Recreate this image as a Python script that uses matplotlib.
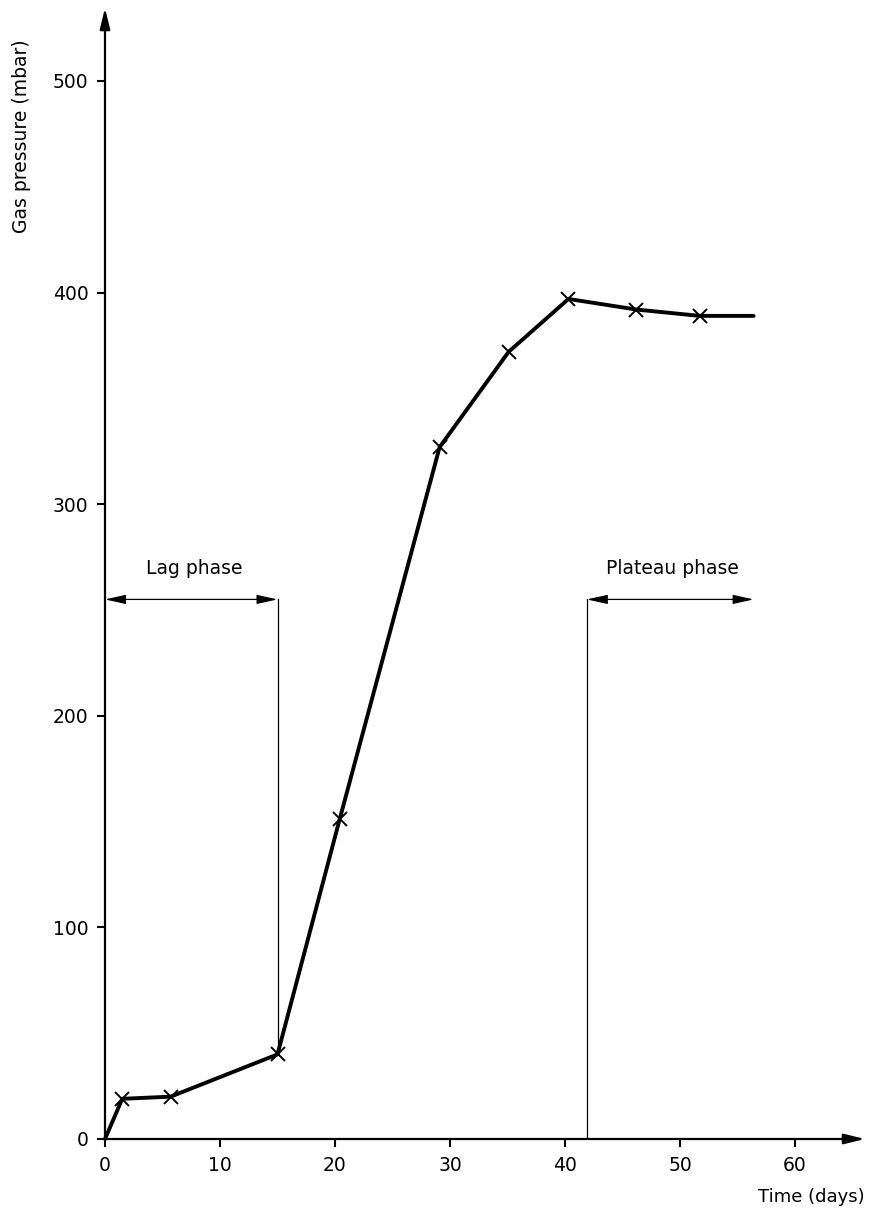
import matplotlib.pyplot as plt

# gas pressure readings (days, mbar)
days = [0, 1.5, 5.7, 15.0, 20.4, 29.1, 35.1, 40.3, 46.2, 51.7, 56.4]
pressure = [0, 19, 20, 40, 151, 327, 372, 397, 392, 389, 389]
marked = [False, True, True, True, True, True, True, True, True, True, False]

xticks = [0, 10, 20, 30, 40, 50, 60]
yticks = [0, 100, 200, 300, 400, 500]

lag_start, lag_end = 0, 15.0
plateau_start, plateau_end = 41.9, 56.4
phase_level = 255

fig = plt.figure(figsize=(8.69, 12.12), dpi=100)
ax = fig.add_axes([105 / 869, 73 / 1212, 760 / 869, 1131 / 1212])
ax.set_xlim(0, 760 / 11.5)
ax.set_ylim(0, 1131 / 2.116)

# axes drawn as arrows instead of spines
for s in ax.spines.values():
    s.set_visible(False)
ax.annotate("", xy=(1, 0), xytext=(0, 0), xycoords="axes fraction",
            arrowprops=dict(arrowstyle="-|>,head_length=0.9,head_width=0.22",
                            color="black", lw=1.6, mutation_scale=14,
                            shrinkA=0, shrinkB=0))
ax.annotate("", xy=(0, 1), xytext=(0, 0), xycoords="axes fraction",
            arrowprops=dict(arrowstyle="-|>,head_length=0.9,head_width=0.22",
                            color="black", lw=1.6, mutation_scale=14,
                            shrinkA=0, shrinkB=0))

ax.set_xticks(xticks)
ax.set_yticks(yticks)
ax.tick_params(direction="out", length=6, width=1.5, labelsize=13.5, pad=6)

# curve
ax.plot(days, pressure, color="black", lw=2.8, solid_capstyle="round", clip_on=False)
mx = [d for d, m in zip(days, marked) if m]
my = [p for p, m in zip(pressure, marked) if m]
ax.plot(mx, my, "x", color="black", ms=10, mew=1.4, clip_on=False)

arrow = dict(arrowstyle="<|-|>,head_length=0.9,head_width=0.2", color="black",
             lw=0.9, mutation_scale=14, shrinkA=0, shrinkB=0)

# lag phase marker
ax.annotate("", xy=(lag_start, phase_level), xytext=(lag_end, phase_level),
            arrowprops=arrow)
ax.plot([lag_end, lag_end], [phase_level, pressure[3]], color="black", lw=0.9)
ax.text((lag_start + lag_end) / 2 + 0.3, phase_level + 10, "Lag phase",
        ha="center", va="bottom", fontsize=13.5)

# plateau phase marker
ax.annotate("", xy=(plateau_start, phase_level), xytext=(plateau_end, phase_level),
            arrowprops=arrow)
ax.plot([plateau_start, plateau_start], [0, phase_level], color="black", lw=0.9)
ax.text((plateau_start + plateau_end) / 2 + 0.2, phase_level + 10, "Plateau phase",
        ha="center", va="bottom", fontsize=13.5)

fig.text(22 / 869, 1 - 136 / 1212, "Gas pressure (mbar)", rotation=90,
         ha="center", va="center", fontsize=13.5)
fig.text(865 / 869, 1 - 1197 / 1212, "Time (days)", ha="right", va="center",
         fontsize=13)

fig.savefig("out.png", dpi=100)
